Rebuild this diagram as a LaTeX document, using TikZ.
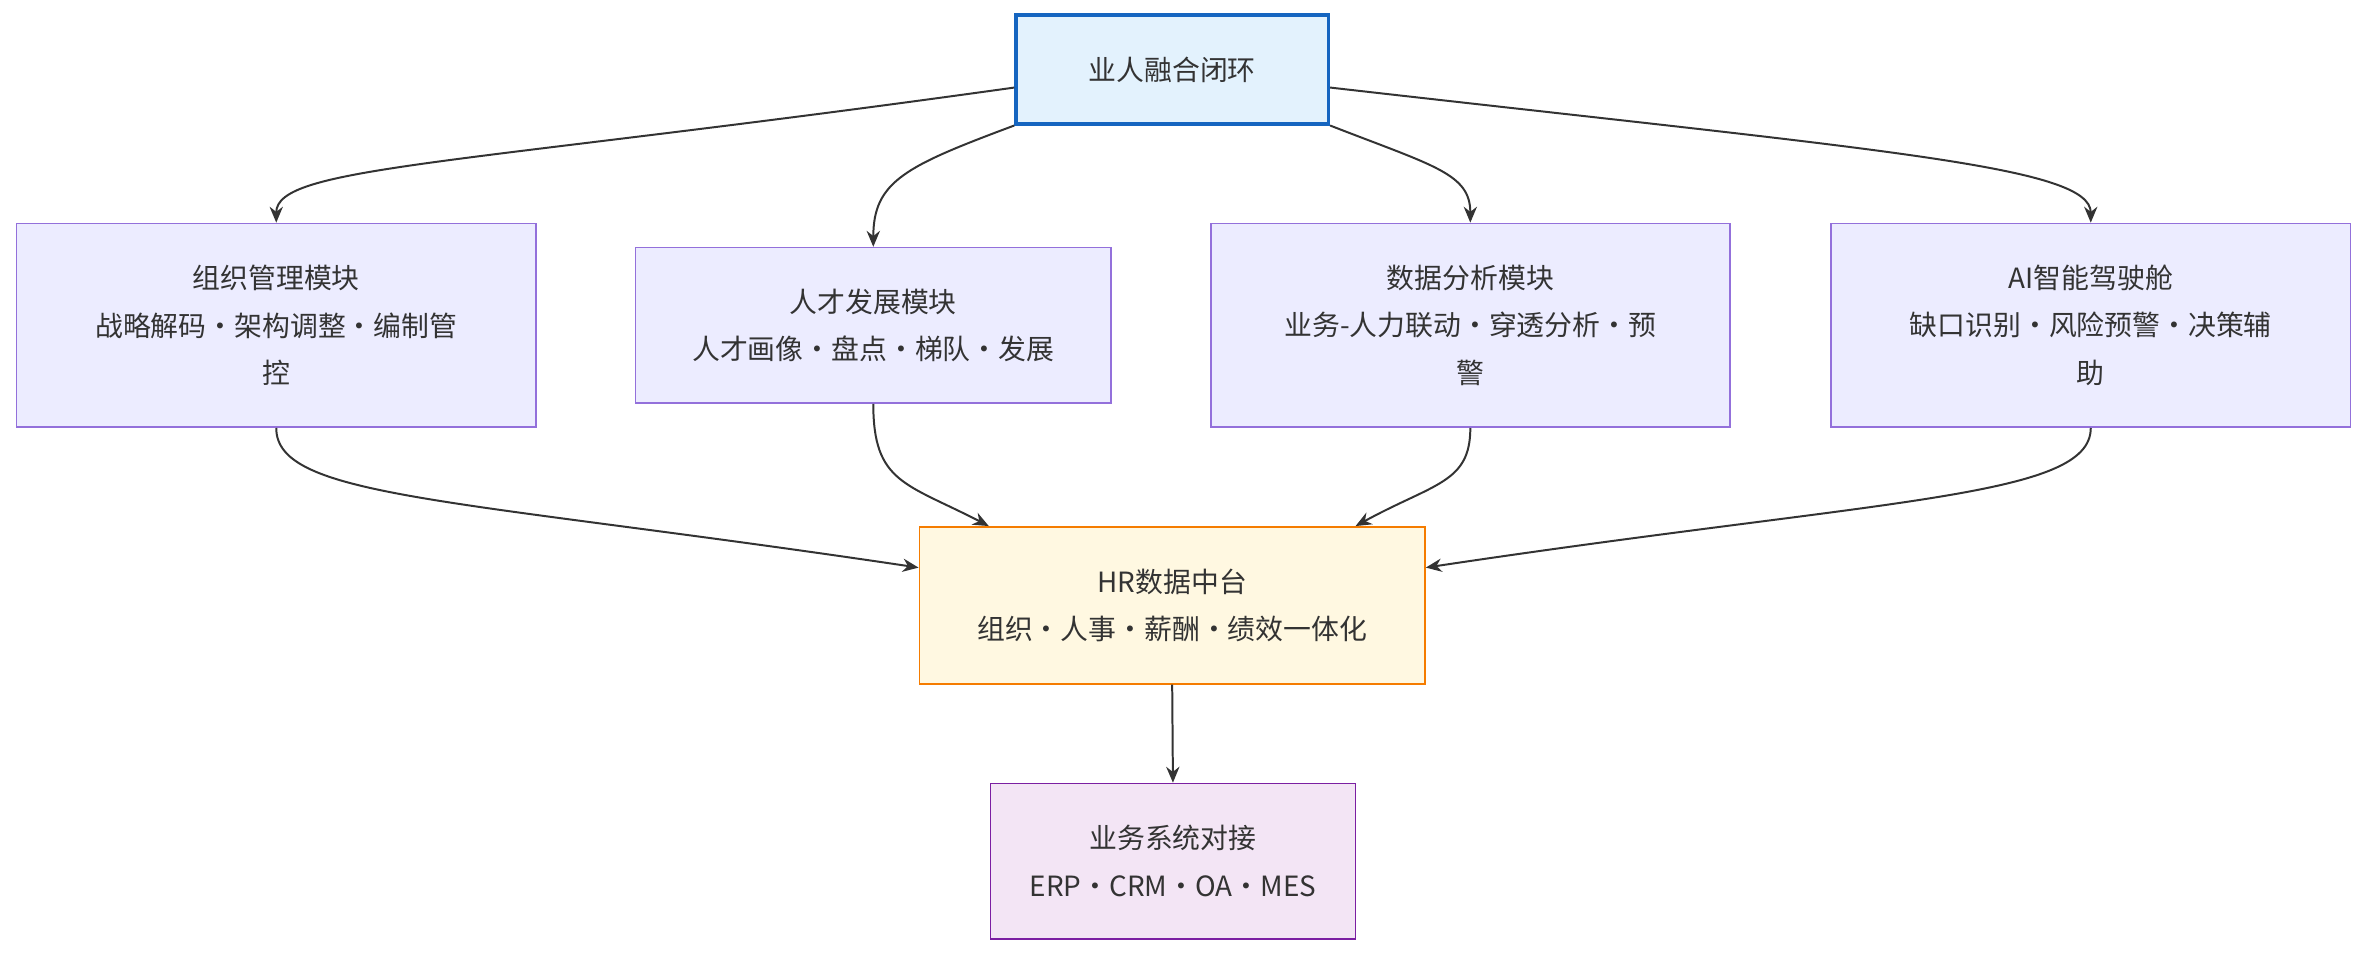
\documentclass[tikz,border=0pt]{standalone}
\usepackage{fontspec}
\setmainfont{Noto Sans CJK SC}
\usetikzlibrary{arrows.meta}
\definecolor{modf}{HTML}{ECECFF}\definecolor{modd}{HTML}{9370DB}
\definecolor{topf}{HTML}{E3F2FD}\definecolor{topd}{HTML}{1565C0}
\definecolor{hrf}{HTML}{FFF8E1}\definecolor{hrd}{HTML}{F57C00}
\definecolor{bzf}{HTML}{F3E5F5}\definecolor{bzd}{HTML}{7B1FA2}
\definecolor{ln}{HTML}{333333}
\begin{document}
\begin{tikzpicture}[x=0.02cm,y=-0.02cm,
 box/.style={draw,align=center,inner sep=2pt,font=\fontsize{10.5pt}{18pt}\selectfont,text=ln},
 mod/.style={box,fill=modf,draw=modd,line width=0.6pt},
 e/.style={draw=ln,line width=0.75pt,-{Stealth[length=6pt,width=5pt]}}]
\useasboundingbox (0,0) rectangle (1568,633);
\node[box,fill=topf,draw=topd,line width=1.3pt,minimum width=4.14cm,minimum height=1.44cm] (top) at (776.5,46) {业人融合闭环};
\node[mod,minimum width=6.88cm,minimum height=2.7cm] (org) at (183,215.5) {组织管理模块\\战略解码·架构调整·编制管\\控};
\node[mod,minimum width=6.3cm,minimum height=2.06cm] (tal) at (578.5,215.5) {人才发展模块\\人才画像·盘点·梯队·发展};
\node[mod,minimum width=6.88cm,minimum height=2.7cm] (dat) at (974,215.5) {数据分析模块\\业务-人力联动·穿透分析·预\\警};
\node[mod,minimum width=6.88cm,minimum height=2.7cm] (ai) at (1385,215.5) {AI智能驾驶舱\\缺口识别·风险预警·决策辅\\助};
\node[box,fill=hrf,draw=hrd,line width=0.6pt,minimum width=6.7cm,minimum height=2.08cm] (hr) at (776.5,401) {HR数据中台\\组织·人事·薪酬·绩效一体化};
\node[box,fill=bzf,draw=bzd,line width=0.6pt,minimum width=4.84cm,minimum height=2.06cm] (bz) at (777,570.5) {业务系统对接\\ERP·CRM·OA·MES};
\draw[e] ([yshift=-0.24cm]top.west) .. controls (300,110) and (183,110) .. (org.north);
\draw[e] (top.south west) .. controls (600,110) and (578.5,120) .. (tal.north);
\draw[e] (top.south east) .. controls (950,110) and (974,115) .. (dat.north);
\draw[e] ([yshift=-0.24cm]top.east) .. controls (1250,100) and (1385,110) .. (ai.north);
\draw[e] (org.south) .. controls (183,330) and (300,330) .. ([yshift=0.5cm]hr.west);
\draw[e] (tal.south) .. controls (578.5,320) and (600,320) .. ([xshift=-2.43cm]hr.north);
\draw[e] (dat.south) .. controls (974,320) and (950,320) .. ([xshift=2.43cm]hr.north);
\draw[e] (ai.south) .. controls (1385,330) and (1250,330) .. ([yshift=0.5cm]hr.east);
\draw[e] (hr.south) -- (bz.north);
\end{tikzpicture}
\end{document}
